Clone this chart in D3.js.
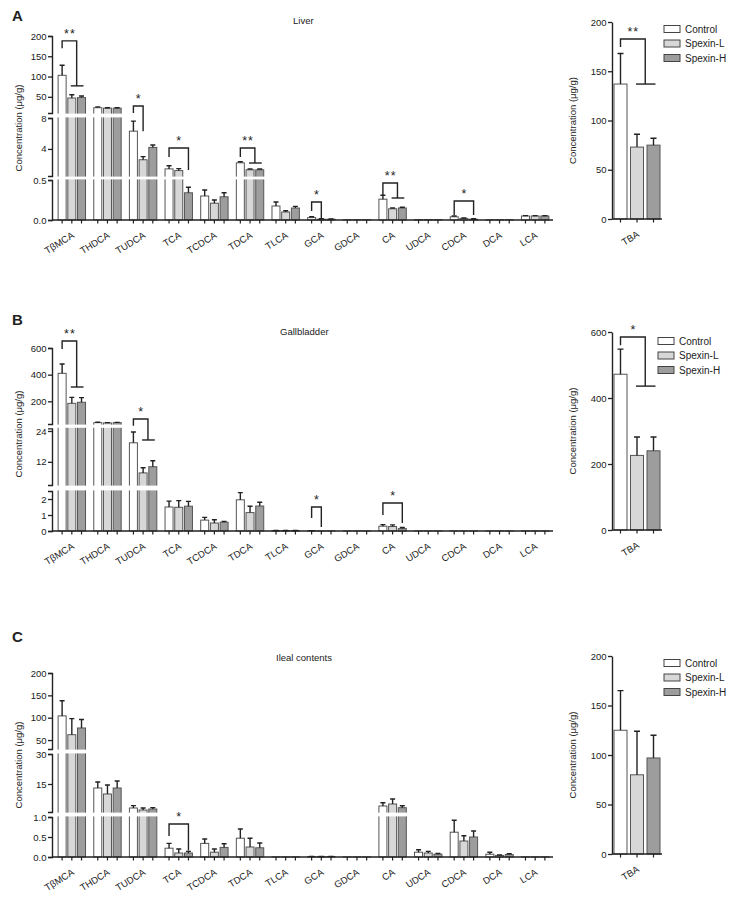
<!DOCTYPE html>
<html><head><meta charset="utf-8">
<script src="https://cdn.jsdelivr.net/npm/d3@7"></script>
<style>
body{margin:0;background:#fff}
text{font-family:"Liberation Sans",Arial,sans-serif;fill:#222}
</style>
</head><body>
<svg id="c" width="736" height="899"></svg>
<script>
// ---------------- DATA ----------------
const categories = ["TβMCA","THDCA","TUDCA","TCA","TCDCA","TDCA","TLCA","GCA","GDCA","CA","UDCA","CDCA","DCA","LCA"];
const groups = ["Control","Spexin-L","Spexin-H"];
const totalLabel = ["TBA"];

// Liver
const liverControl   = [103, 23, 6.3, 1.42, 0.30, 2.2, 0.175, 0.03, 0.003, 0.26, 0.005, 0.04, 0.003, 0.05];
const liverControlSD = [25, 2, 1.3, 0.4, 0.075, 0.15, 0.05, 0.01, 0, 0.05, 0, 0.01, 0, 0.005];
const liverLow       = [47, 22, 2.6, 1.2, 0.21, 1.3, 0.10, 0.01, 0.003, 0.14, 0.005, 0.02, 0.003, 0.05];
const liverLowSD     = [8, 1, 0.4, 0.25, 0.04, 0.1, 0.015, 0.005, 0, 0.01, 0, 0.005, 0, 0.005];
const liverHigh      = [48, 22, 4.2, 0.34, 0.29, 1.3, 0.15, 0.01, 0.003, 0.15, 0.005, 0.01, 0.003, 0.05];
const liverHighSD    = [4, 1, 0.3, 0.07, 0.05, 0.1, 0.02, 0.003, 0, 0.01, 0, 0.005, 0, 0.005];
const liverTBA   = [137, 73, 75];
const liverTBASD = [31, 13, 7];
const liverSig = [
  {cat:"TβMCA", to:"both",     label:"**", start:170,    top:188,    end:77},
  {cat:"TUDCA", to:"Spexin-L", label:"*",  start:10,     top:27.3,   end:6.3},
  {cat:"TCA",   to:"Spexin-H", label:"*",  start:2.96,   top:4.12,   end:1.28},
  {cat:"TDCA",  to:"both",     label:"**", start:2.96,   top:4.12,   end:2.18},
  {cat:"GCA",   to:"Spexin-L", label:"*",  start:0.1125, top:0.225,  end:0.025},
  {cat:"CA",    to:"both",     label:"**", start:0.3125, top:0.4625, end:0.275},
  {cat:"CDCA",  to:"Spexin-H", label:"*",  start:0.0625, top:0.2375, end:0.0625}
];
const liverTBASig = [{to:"both", label:"**", start:174.6, top:182.7, end:137}];

// Gallbladder
const gbControl   = [410, 40, 19.4, 1.5, 0.68, 1.95, 0.03, 0.02, 0.003, 0.30, 0.003, 0.003, 0.003, 0.003];
const gbControlSD = [70, 3, 4.2, 0.37, 0.17, 0.45, 0.005, 0.005, 0, 0.10, 0, 0, 0, 0];
const gbLow       = [185, 38, 7.7, 1.48, 0.50, 1.15, 0.03, 0.005, 0.003, 0.28, 0.003, 0.003, 0.003, 0.003];
const gbLowSD     = [45, 2, 2.0, 0.42, 0.20, 0.40, 0.005, 0, 0, 0.10, 0, 0, 0, 0];
const gbHigh      = [193, 40, 10.1, 1.55, 0.55, 1.56, 0.03, 0.005, 0.003, 0.15, 0.003, 0.003, 0.003, 0.003];
const gbHighSD    = [35, 2, 2.3, 0.30, 0.05, 0.24, 0.005, 0, 0, 0.07, 0, 0, 0, 0];
const gbTBA   = [472, 226, 240];
const gbTBASD = [76, 56, 42];
const gbSig = [
  {cat:"TβMCA", to:"both",     label:"**", start:592,  top:652,  end:307.5},
  {cat:"TUDCA", to:"both",     label:"*",  start:26,   top:67.5, end:20.5},
  {cat:"GCA",   to:"Spexin-L", label:"*",  start:0.81, top:1.5,  end:0.25},
  {cat:"CA",    to:"Spexin-H", label:"*",  start:1.0,  top:1.75, end:0.5}
];
const gbTBASig = [{to:"both", label:"*", start:560, top:585, end:436}];

// Ileal contents
const ilControl   = [104, 13, 3.0, 0.22, 0.34, 0.47, 0.003, 0.010, 0.002, 4.0, 0.12, 0.62, 0.07, 0.003];
const ilControlSD = [34, 3, 1.2, 0.12, 0.11, 0.23, 0, 0.005, 0, 1.6, 0.06, 0.30, 0.05, 0];
const ilLow       = [62, 10, 2.0, 0.10, 0.12, 0.25, 0.003, 0.008, 0.002, 5.0, 0.10, 0.40, 0.04, 0.003];
const ilLowSD     = [36, 4.5, 1.0, 0.10, 0.08, 0.22, 0, 0.004, 0, 2.5, 0.04, 0.13, 0.01, 0];
const ilHigh      = [77, 13, 2.5, 0.10, 0.24, 0.23, 0.003, 0.012, 0.002, 3.15, 0.07, 0.50, 0.06, 0.003];
const ilHighSD    = [19, 3.5, 0.7, 0.04, 0.09, 0.12, 0, 0.004, 0, 1.0, 0.02, 0.15, 0.02, 0];
const ilTBA   = [125, 80, 97];
const ilTBASD = [40, 44, 23];
const ilSig = [
  {cat:"TCA", to:"Spexin-H", label:"*", start:0.525, top:0.825, end:0.16}
];
const ilTBASig = [];

// ---------------- LAYOUT ----------------
const fills = {"Control":"#ffffff","Spexin-L":"#d7d7d7","Spexin-H":"#9d9d9d"};
const panels = [
  {letter:"A", letterY:21, title:"Liver", titleX:293, titleY:24,
   segs:[{d:[0,0.5],r:[220,180],t:[0,0.5],f:".1f"},{d:[0.5,8],r:[176,118],t:[4,8],f:"d"},{d:[10,200],r:[113,36],t:[50,100,150,200],f:"d"}],
   ylabY:128,
   right:{d:[0,200],r:[219,22],t:[0,50,100,150,200]}, legX:664, legY:29,
   data:{c:liverControl,cs:liverControlSD,l:liverLow,ls:liverLowSD,h:liverHigh,hs:liverHighSD,sig:liverSig,tba:liverTBA,tbas:liverTBASD,tsig:liverTBASig}},
  {letter:"B", letterY:325, title:"Gallbladder", titleX:280, titleY:335,
   segs:[{d:[0,2.5],r:[531,491],t:[0,1,2],f:"d"},{d:[3,25],r:[485,428.4],t:[12,24],f:"d"},{d:[30,600],r:[424,348],t:[200,400,600],f:"d"}],
   ylabY:434,
   right:{d:[0,600],r:[530,332],t:[0,200,400,600]}, legX:658, legY:341,
   data:{c:gbControl,cs:gbControlSD,l:gbLow,ls:gbLowSD,h:gbHigh,hs:gbHighSD,sig:gbSig,tba:gbTBA,tbas:gbTBASD,tsig:gbTBASig}},
  {letter:"C", letterY:642, title:"Ileal contents", titleX:276, titleY:661,
   segs:[{d:[0,1],r:[857,817],t:[0,0.5,1],f:".1f"},{d:[1,30],r:[812,754],t:[15,30],f:"d"},{d:[30,200],r:[749,673],t:[50,100,150,200],f:"d"}],
   ylabY:765,
   right:{d:[0,200],r:[854,656],t:[0,50,100,150,200]}, legX:664, legY:663,
   data:{c:ilControl,cs:ilControlSD,l:ilLow,ls:ilLowSD,h:ilHigh,hs:ilHighSD,sig:ilSig,tba:ilTBA,tbas:ilTBASD,tsig:ilTBASig}}
];

const svg = d3.select("#c");
const AX = 52, XEND = 553, RAX = 612, REND = 662;
const xG = d3.scaleBand().domain(categories).range([54, 553]);
const xS = d3.scaleBand().domain(groups).range([-14.55, 14.55]).paddingInner(0.175).paddingOuter(0.0875);
const xR = d3.scaleBand().domain(groups).range([RAX, REND]).paddingInner(0.212).paddingOuter(0.121);
const barCx = (cat, g) => xG(cat) + xG.bandwidth()/2 + xS(g) + xS.bandwidth()/2;

function makeY(segs){
  const sc = segs.map(s => d3.scaleLinear().domain(s.d).range(s.r));
  const f = v => { let i = segs.length-1; while (i > 0 && v < segs[i].d[0]) i--; return sc[i](v); };
  f.sc = sc; return f;
}

function styleAxis(g){
  g.select(".domain").attr("stroke","#222").attr("stroke-width",1.4);
  g.selectAll(".tick line").attr("stroke","#222").attr("stroke-width",1.3);
  g.selectAll(".tick text").attr("font-size","9.5px").attr("fill","#222")
   .attr("font-family",'"Liberation Sans",Arial,sans-serif');
}

function drawSig(g, list, xLeft, xRightOf, y){
  list.forEach(s => {
    const xl = xLeft(s);
    let xr;
    if (s.to === "both") {
      const xa = xRightOf(s,"Spexin-L"), xb = xRightOf(s,"Spexin-H");
      xr = (xa + xb)/2;
      g.append("path").attr("d", `M${xa-1},${y(s.end)}H${xb+2}`)
        .attr("stroke","#222").attr("stroke-width",1.4).attr("fill","none");
    } else {
      xr = xRightOf(s, s.to);
    }
    g.append("path").attr("d", `M${xl},${y(s.start)}V${y(s.top)}H${xr}V${y(s.end)}`)
      .attr("stroke","#222").attr("stroke-width",1.4).attr("fill","none");
    g.append("text").attr("x",(xl+xr)/2 + 0.5).attr("y",y(s.top)-3).attr("text-anchor","middle")
      .attr("font-size","12.5px").attr("letter-spacing","1px").attr("fill","#222").text(s.label);
  });
}

panels.forEach(p => {
  const g = svg.append("g");
  const d = p.data;
  const y = makeY(p.segs);
  const base = p.segs[0].r[0];
  const series = [{k:"Control",v:d.c,s:d.cs},{k:"Spexin-L",v:d.l,s:d.ls},{k:"Spexin-H",v:d.h,s:d.hs}];

  g.append("text").attr("x",12).attr("y",p.letterY).attr("font-size","15px").attr("font-weight","bold")
    .attr("fill","#111").text(p.letter);
  g.append("text").attr("x",p.titleX).attr("y",p.titleY).attr("font-size","9.5px").text(p.title);

  // bars
  series.forEach(ser => {
    categories.forEach((cat,i) => {
      const cx = barCx(cat, ser.k), v = ser.v[i], top = y(v);
      g.append("rect").attr("x", cx - xS.bandwidth()/2).attr("y", top)
        .attr("width", xS.bandwidth()).attr("height", Math.max(0, base - top))
        .attr("fill", fills[ser.k]).attr("stroke","#555").attr("stroke-width",1);
      if (ser.s[i] > 0) {
        const ye = y(v + ser.s[i]);
        g.append("path").attr("d", `M${cx},${top}V${ye}M${cx-2.5},${ye}H${cx+2.5}`)
          .attr("stroke","#222").attr("stroke-width",1.4).attr("fill","none");
      }
    });
  });

  // break gaps
  for (let i = 0; i < p.segs.length-1; i++) {
    const y0 = p.segs[i+1].r[0], y1 = p.segs[i].r[1];
    g.append("rect").attr("x", AX+0.8).attr("y", y0+0.6).attr("width", XEND - AX).attr("height", y1 - y0 - 1.2)
      .attr("fill","#fff");
  }

  // y axes (segments)
  p.segs.forEach((s, i) => {
    const ax = g.append("g").attr("transform", `translate(${AX},0)`)
      .call(d3.axisLeft(y.sc[i]).tickValues(s.t).tickSize(4).tickSizeOuter(4).tickPadding(1.5)
        .tickFormat(d3.format(s.f)));
    styleAxis(ax);
  });

  // x axis
  g.append("line").attr("x1",AX).attr("x2",XEND).attr("y1",base).attr("y2",base)
    .attr("stroke","#222").attr("stroke-width",1.4);
  categories.forEach(cat => {
    groups.forEach(gr => {
      const cx = barCx(cat, gr);
      g.append("line").attr("x1",cx).attr("x2",cx).attr("y1",base).attr("y2",base+3.5)
        .attr("stroke","#222").attr("stroke-width",1.2);
    });
    const gc = xG(cat) + xG.bandwidth()/2;
    g.append("text").attr("transform",`translate(${gc+3},${base+17}) rotate(-32)`)
      .attr("text-anchor","end").attr("font-size","9.5px").text(cat);
  });

  g.append("text").attr("transform",`translate(22,${p.ylabY}) rotate(-90)`).attr("text-anchor","middle")
    .attr("font-size","9.5px").text("Concentration (μg/g)");

  drawSig(g, d.sig, s => barCx(s.cat,"Control"), (s,gr) => barCx(s.cat, gr), y);

  // ----- right TBA panel -----
  const yr = d3.scaleLinear().domain(p.right.d).range(p.right.r);
  const rb = p.right.r[0];
  groups.forEach((gr, i) => {
    const x0 = xR(gr), top = yr(d.tba[i]);
    g.append("rect").attr("x",x0).attr("y",top).attr("width",xR.bandwidth()).attr("height",rb-top)
      .attr("fill",fills[gr]).attr("stroke","#555").attr("stroke-width",1);
    const cx = x0 + xR.bandwidth()/2, ye = yr(d.tba[i] + d.tbas[i]);
    g.append("path").attr("d",`M${cx},${top}V${ye}M${cx-3},${ye}H${cx+3}`)
      .attr("stroke","#222").attr("stroke-width",1.4).attr("fill","none");
    g.append("line").attr("x1",cx).attr("x2",cx).attr("y1",rb).attr("y2",rb+3.5)
      .attr("stroke","#222").attr("stroke-width",1.2);
  });
  const rax = g.append("g").attr("transform",`translate(${RAX},0)`)
    .call(d3.axisLeft(yr).tickValues(p.right.t).tickSize(4).tickSizeOuter(0).tickPadding(1.5).tickFormat(d3.format("d")));
  styleAxis(rax);
  g.append("line").attr("x1",RAX).attr("x2",REND).attr("y1",rb).attr("y2",rb)
    .attr("stroke","#222").attr("stroke-width",1.4);
  const rc = xR("Spexin-L") + xR.bandwidth()/2;
  g.append("text").attr("transform",`translate(${rc+3},${rb+17}) rotate(-32)`)
    .attr("text-anchor","end").attr("font-size","9.5px").text(totalLabel[0]);
  g.append("text").attr("transform",`translate(576,${(p.right.r[0]+p.right.r[1])/2}) rotate(-90)`)
    .attr("text-anchor","middle").attr("font-size","9.5px").text("Concentration (μg/g)");
  drawSig(g, d.tsig, s => xR("Control")+xR.bandwidth()/2, (s,gr) => xR(gr)+xR.bandwidth()/2, yr);

  // legend
  groups.forEach((gr, i) => {
    const ly = p.legY + i*14.5;
    g.append("rect").attr("x",p.legX).attr("y",ly-3.5).attr("width",16).attr("height",7)
      .attr("fill",fills[gr]).attr("stroke","#444").attr("stroke-width",1);
    g.append("text").attr("x",p.legX+21).attr("y",ly+3.5).attr("font-size","10px").text(gr);
  });
});
</script>
</body></html>
